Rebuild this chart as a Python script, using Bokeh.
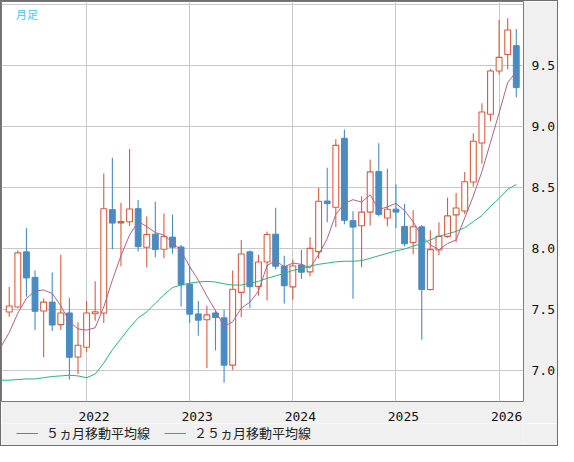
import pandas as pd
from bokeh.plotting import figure
from bokeh.layouts import column
from bokeh.models import ColumnDataSource, FixedTicker, Grid, LinearAxis, Range1d, \
    PrintfTickFormatter, Legend, Label
from bokeh.embed import file_html
from bokeh.resources import INLINE

# monthly candles, 2021-04 .. 2026-03
months = [str(p) for p in pd.period_range("2021-04", "2026-03", freq="M")]

opens = [7.479, 7.520, 7.972, 7.763, 7.487, 7.560, 7.375, 7.471, 7.110,
         7.190, 7.465, 7.471, 8.318, 8.210, 8.219, 8.326, 8.010, 8.117, 7.994, 8.093, 8.012,
         7.707, 7.463, 7.415, 7.471, 7.431, 7.043, 7.640, 7.972, 7.688, 7.889, 8.117, 7.854,
         7.685, 7.864, 7.808, 7.974, 8.389, 8.338, 8.904, 8.228, 8.186, 8.298, 8.630, 8.250,
         8.322, 8.180, 8.049, 8.177, 7.663, 7.987, 8.099, 8.275, 8.307, 8.545, 8.865, 9.100,
         9.455, 9.591, 9.663]
closes = [7.528, 7.964, 7.758, 7.485, 7.560, 7.372, 7.471, 7.107, 7.206,
          7.471, 7.480, 8.326, 8.208, 8.220, 8.323, 8.015, 8.114, 7.991, 8.098, 8.010, 7.702,
          7.461, 7.412, 7.455, 7.434, 7.043, 7.665, 7.954, 7.686, 7.889, 8.114, 7.854, 7.694,
          7.856, 7.805, 8.001, 8.387, 8.368, 8.845, 8.231, 8.175, 8.298, 8.628, 8.279, 8.322,
          8.298, 8.038, 8.178, 7.663, 7.990, 8.099, 8.267, 8.332, 8.547, 8.879, 9.119, 9.455,
          9.567, 9.791, 9.319]
highs = [7.683, 7.986, 8.165, 7.820, 7.589, 7.803, 7.948, 7.595, 7.394,
         7.570, 7.731, 8.615, 8.744, 8.374, 8.816, 8.398, 8.262, 8.382, 8.286, 8.278, 8.029,
         7.860, 7.569, 7.530, 7.493, 7.498, 7.820, 8.069, 7.983, 7.948, 8.138, 8.334, 7.940,
         7.910, 7.987, 8.092, 8.496, 8.662, 8.896, 8.976, 8.306, 8.429, 8.729, 8.863, 8.654,
         8.526, 8.365, 8.314, 8.193, 8.150, 8.214, 8.417, 8.455, 8.626, 8.945, 9.191, 9.471,
         9.873, 9.887, 9.799]
lows = [7.439, 7.510, 7.603, 7.332, 7.107, 7.324, 7.332, 6.925, 6.970,
        7.153, 7.407, 7.388, 7.994, 7.854, 8.184, 7.975, 7.844, 7.927, 7.919, 7.956, 7.525,
        7.388, 7.284, 7.018, 7.164, 6.898, 7.003, 7.437, 7.509, 7.613, 7.573, 7.828, 7.549,
        7.580, 7.749, 7.773, 7.918, 8.215, 8.175, 8.199, 7.588, 7.845, 8.188, 8.263, 8.183,
        8.167, 8.017, 7.953, 7.252, 7.655, 7.944, 8.088, 8.051, 8.283, 8.505, 8.695, 9.044,
        9.428, 9.468, 9.239]

# moving averages, 2021-03 .. 2026-03
ma_months = [str(p) for p in pd.period_range("2021-03", "2026-03", freq="M")]
ma5 = [7.19, 7.31, 7.47, 7.59, 7.65, 7.66, 7.63, 7.53, 7.40, 7.34,
       7.33, 7.35, 7.52, 7.74, 7.94, 8.11, 8.22, 8.18, 8.13, 8.11, 8.05, 7.98,
       7.85, 7.74, 7.61, 7.49, 7.36, 7.40, 7.51, 7.56, 7.65, 7.86, 7.90, 7.85,
       7.88, 7.87, 7.84, 7.95, 8.08, 8.28, 8.37, 8.40, 8.38, 8.44, 8.32, 8.34,
       8.37, 8.31, 8.22, 8.10, 8.03, 7.99, 8.04, 8.07, 8.25, 8.43, 8.63, 8.87,
       9.11, 9.36, 9.45]
ma25 = [6.92, 6.92, 6.925, 6.93, 6.93, 6.94, 6.95, 6.955, 6.96, 6.955,
        6.94, 6.97, 7.06, 7.17, 7.26, 7.35, 7.43, 7.48, 7.55, 7.62, 7.68, 7.70,
        7.715, 7.725, 7.73, 7.725, 7.71, 7.70, 7.70, 7.715, 7.73, 7.755, 7.775, 7.795,
        7.82, 7.835, 7.855, 7.87, 7.88, 7.89, 7.895, 7.895, 7.90, 7.92, 7.94, 7.96,
        7.98, 7.995, 8.02, 8.04, 8.07, 8.10, 8.12, 8.14, 8.17, 8.22, 8.27, 8.345,
        8.41, 8.485, 8.525]

year_labels = [2022, 2023, 2024, 2025, 2026]
price_ticks = [7.0, 7.5, 8.0, 8.5, 9.0, 9.5]
grid_prices = [6.5, 7.0, 7.5, 8.0, 8.5, 9.0, 9.5, 10.0]
legend_names = ["５ヵ月移動平均線", "２５ヵ月移動平均線"]

RED = "#d65d42"
BLUE = "#4a8bc1"
PINK = "#b0628a"
GREEN = "#2bb57c"
BG = "#f0f0f0"


def month_index(s):
    # months counted from 2022-01
    y, m = s.split("-")
    return (int(y) - 2022) * 12 + int(m) - 1


df = pd.DataFrame(dict(m=[month_index(s) for s in months], open=opens, close=closes,
                       high=highs, low=lows))
df["top"] = df[["open", "close"]].max(axis=1)
df["bottom"] = df[["open", "close"]].min(axis=1)
up = ColumnDataSource(df[df["close"] >= df["open"]])
down = ColumnDataSource(df[df["close"] < df["open"]])

ma = ColumnDataSource(dict(m=[month_index(s) for s in ma_months], ma5=ma5, ma25=ma25))

x0, x1 = -9.9, 50.84
p = figure(width=556, height=422, x_range=Range1d(x0, x1), y_range=Range1d(6.745, 10.025),
           x_axis_type=None, y_axis_type=None, tools="", toolbar_location=None,
           min_border_left=0, min_border_top=0, min_border_right=33, min_border_bottom=18,
           background_fill_color="white", border_fill_color=BG,
           outline_line_color="#7a7a7a", output_backend="svg")

p.add_layout(Grid(dimension=0, ticker=FixedTicker(ticks=[0, 12, 24, 36, 48]),
                  grid_line_color="#c8c8c8"))
p.add_layout(Grid(dimension=1, ticker=FixedTicker(ticks=grid_prices),
                  grid_line_color="#c8c8c8"))

yaxis = LinearAxis(ticker=FixedTicker(ticks=price_ticks),
                   formatter=PrintfTickFormatter(format="%.1f"))
yaxis.axis_line_color = None
yaxis.major_tick_line_color = None
yaxis.minor_tick_line_color = None
yaxis.major_label_standoff = 2
yaxis.major_label_text_font = "DejaVu Sans Mono"
yaxis.major_label_text_font_size = "13px"
yaxis.major_label_text_color = "#111111"
p.add_layout(yaxis, "right")

# year labels sit a little right of the year grid lines
shift = 0.87
p.extra_x_ranges["yr"] = Range1d(2022 + (x0 - shift) / 12, 2022 + (x1 - shift) / 12)
xaxis = LinearAxis(x_range_name="yr", ticker=FixedTicker(ticks=year_labels),
                   formatter=PrintfTickFormatter(format="%d"))
xaxis.axis_line_color = None
xaxis.major_tick_line_color = None
xaxis.minor_tick_line_color = None
xaxis.major_label_standoff = 4
xaxis.major_label_text_font = "DejaVu Sans Mono"
xaxis.major_label_text_font_size = "13px"
xaxis.major_label_text_color = "#111111"
p.add_layout(xaxis, "below")

w = 0.68
p.segment("m", "high", "m", "low", color=RED, line_width=1.1, source=up)
p.vbar("m", w, "bottom", "top", fill_color="white", line_color=RED, line_width=1.1, source=up)
p.segment("m", "high", "m", "low", color=BLUE, line_width=1.1, source=down)
p.vbar("m", w, "bottom", "top", fill_color=BLUE, line_color=BLUE, line_width=1, source=down)

p.line("m", "ma5", color=PINK, line_width=1, source=ma)
p.line("m", "ma25", color=GREEN, line_width=1, source=ma)

p.add_layout(Label(x=-8.2, y=9.985, text="月足", text_color="#3cc8f2",
                   text_font="Noto Sans CJK JP", text_font_size="11px",
                   text_baseline="top"))

# legend strip under the chart (its lines lie outside the strip's range)
lf = figure(width=556, height=22, x_range=Range1d(0, 556), y_range=Range1d(0, 22),
            x_axis_type=None, y_axis_type=None, tools="", toolbar_location=None,
            min_border=0, background_fill_color=BG, border_fill_color=BG,
            outline_line_color=None, output_backend="svg")
l5 = lf.line(x=[-20, -10], y=[-20, -20], color=PINK, line_width=1)
l25 = lf.line(x=[-20, -10], y=[-20, -20], color=GREEN, line_width=1)
legend = Legend(items=[(legend_names[0], [l5]), (legend_names[1], [l25])],
                orientation="horizontal", location=(15, 3), border_line_color=None,
                background_fill_alpha=0, padding=0, margin=0, spacing=14,
                glyph_width=22, glyph_height=16, label_standoff=8, label_height=16,
                label_text_font="Noto Sans CJK JP", label_text_font_size="13px",
                label_text_color="#222222")
lf.add_layout(legend, "center")

page = column(p, lf, spacing=0)
page.styles = {"border": "1px solid #6e6e6e"}

open("out.html", "w").write(file_html(page, INLINE))
